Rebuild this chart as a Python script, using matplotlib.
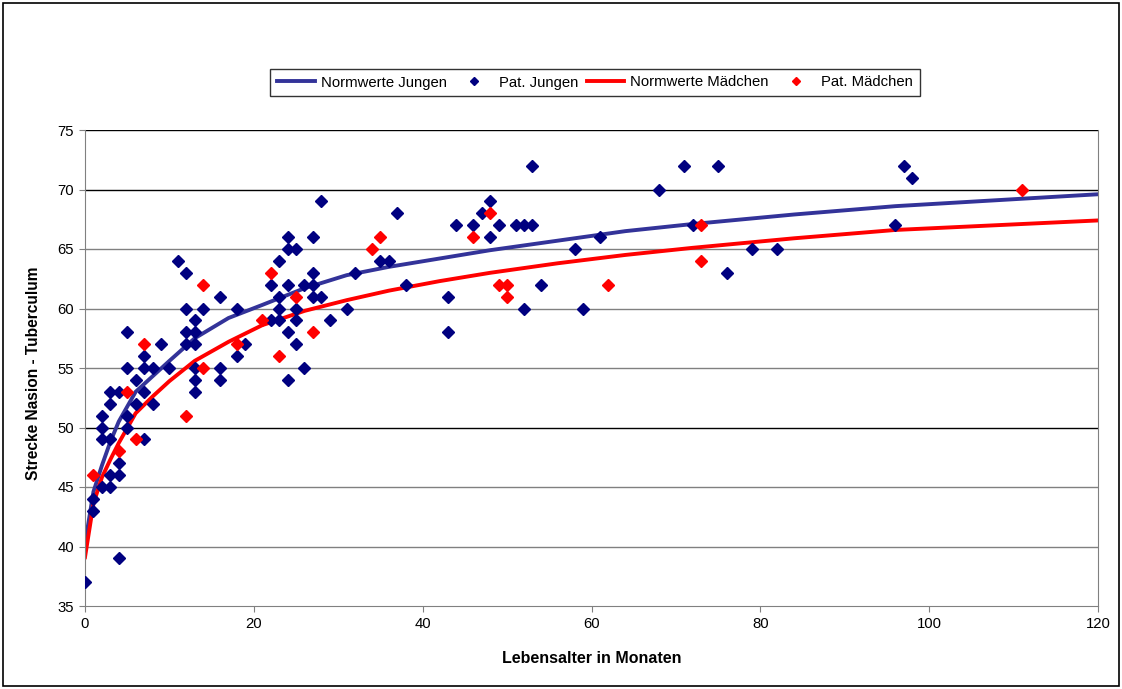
import matplotlib
matplotlib.use("Agg")
import matplotlib.pyplot as plt
from matplotlib.patches import Rectangle

plt.rcParams['font.family'] = ['Liberation Sans', 'DejaVu Sans']

# Normwerte
norm_months = [0, 1, 2, 3, 4, 6, 8, 10, 13, 17, 21, 26, 31, 36, 42, 48, 56, 64, 72, 84, 96, 108, 120]
norm_jungen = [40.2, 44.6, 46.8, 48.8, 50.5, 53.0, 54.3, 55.6, 57.5, 59.2, 60.3, 61.7, 62.8, 63.5,
               64.2, 64.9, 65.7, 66.5, 67.1, 67.9, 68.6, 69.1, 69.6]
norm_maedchen = [39.1, 43.6, 45.8, 47.3, 48.7, 51.2, 52.6, 53.9, 55.6, 57.2, 58.6, 59.8, 60.7, 61.5,
                 62.3, 63.0, 63.8, 64.5, 65.1, 65.9, 66.6, 67.0, 67.4]

# Patienten Jungen
jungen_x = [0, 1, 1, 2, 2, 2, 2, 3, 3, 3, 3, 3, 4, 4, 4, 4,
            5, 5, 5, 5, 6, 6, 7, 7, 7, 7, 8, 8, 9, 10, 11,
            12, 12, 12, 12, 13, 13, 13, 13, 13, 13, 14, 16, 16, 16, 18, 18, 19,
            22, 22, 23, 23, 23, 23, 24, 24, 24, 24, 24, 25, 25, 25, 25, 26, 26,
            27, 27, 27, 27, 28, 28, 29, 31, 32, 35, 36, 37, 38,
            43, 43, 44, 46, 47, 48, 48, 49, 51, 52, 52, 53, 53, 54, 58, 59, 61,
            68, 71, 72, 75, 76, 79, 82, 96, 97, 98]
jungen_y = [37, 44, 43, 45, 49, 50, 51, 45, 46, 49, 52, 53, 46, 47, 53, 39,
            58, 55, 51, 50, 54, 52, 56, 55, 53, 49, 55, 52, 57, 55, 64,
            63, 60, 58, 57, 59, 58, 57, 55, 54, 53, 60, 61, 55, 54, 60, 56, 57,
            62, 59, 64, 61, 60, 59, 66, 65, 62, 58, 54, 65, 60, 59, 57, 62, 55,
            66, 63, 62, 61, 69, 61, 59, 60, 63, 64, 64, 68, 62,
            61, 58, 67, 67, 68, 69, 66, 67, 67, 67, 60, 72, 67, 62, 65, 60, 66,
            70, 72, 67, 72, 63, 65, 65, 67, 72, 71]

# Patienten Mädchen
maedchen_x = [1, 4, 5, 6, 7, 12, 14, 14, 18, 21, 22, 23, 25, 27, 34, 35,
              46, 48, 49, 50, 50, 62, 73, 73, 111]
maedchen_y = [46, 48, 53, 49, 57, 51, 62, 55, 57, 59, 63, 56, 61, 58, 65, 66,
              66, 68, 62, 62, 61, 62, 67, 64, 70]

fig = plt.figure(figsize=(11.22, 6.89), dpi=100)
fig.patches.append(Rectangle((0.003, 0.004), 0.994, 0.992, transform=fig.transFigure,
                             fill=False, edgecolor='black', linewidth=1.2))
ax = fig.add_axes([85 / 1122, 83 / 689, 1013 / 1122, 476 / 689])

# gridlines
for yv in range(40, 76, 5):
    col = 'black' if yv in (50, 70, 75) else '#808080'
    ax.axhline(yv, color=col, linewidth=1.0, zorder=0)

ax.plot(norm_months, norm_jungen, color='#333399', linewidth=2.8, label='Normwerte Jungen', zorder=2)
ax.plot(jungen_x, jungen_y, linestyle='none', marker='D', markersize=6.5, color='#000080',
        label='Pat. Jungen', zorder=3)
ax.plot(norm_months, norm_maedchen, color='#FF0000', linewidth=2.8, label='Normwerte Mädchen', zorder=2)
ax.plot(maedchen_x, maedchen_y, linestyle='none', marker='D', markersize=6.5, color='#FF0000',
        label='Pat. Mädchen', zorder=3)

ax.set_xlim(0, 120)
ax.set_ylim(35, 75)
ax.set_xticks(range(0, 121, 20))
ax.set_yticks(range(35, 76, 5))
ax.tick_params(labelsize=10.7, length=4, color='#808080', pad=4)
for side in ['left', 'bottom', 'right']:
    ax.spines[side].set_color('#808080')
ax.spines['top'].set_visible(False)

ax.set_xlabel('Lebensalter in Monaten', fontsize=11.5, fontweight='bold', labelpad=14)
ax.set_ylabel('Strecke Nasion - Tuberculum', fontsize=11.2, fontweight='bold')
ax.yaxis.set_label_coords(-0.043, 0.49)

leg = fig.legend(loc='center', bbox_to_anchor=(595 / 1122, 1 - 82.5 / 689), ncol=4,
                 fontsize=10.7, frameon=True, fancybox=False, edgecolor='black',
                 handlelength=2.55, columnspacing=0.55, handletextpad=0.4, borderpad=0.45,
                 borderaxespad=0, markerscale=0.7)
leg.get_frame().set_linewidth(1.0)

fig.savefig('out.png', dpi=100)
